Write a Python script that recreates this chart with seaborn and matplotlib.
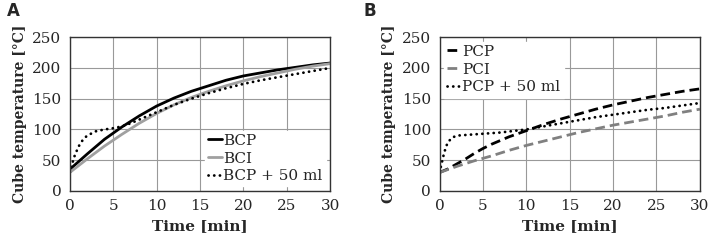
import numpy as np
import pandas as pd
import matplotlib.pyplot as plt
import seaborn as sns

# 面板 A 的数据
t_a = [0, 2, 4, 6, 8, 10, 12, 14, 16, 18, 20, 22, 24, 26, 28, 30]
bcp = [35, 60, 84, 104, 122, 138, 151, 162, 171, 180, 187, 192, 197, 201, 205, 208]
bci = [30, 52, 73, 92, 110, 126, 140, 152, 162, 171, 179, 186, 192, 198, 203, 207]
t_a50 = [0, 0.5, 1, 1.5, 2, 3, 4, 5, 6, 7, 8, 10, 12, 14, 16, 18, 20, 22, 24, 26, 28, 30]
bcp50 = [30, 55, 72, 83, 90, 97, 100, 102, 105, 110, 116, 128, 140, 150, 159, 167, 174, 180, 185, 190, 195, 200]

# 面板 B 的数据
t_b = [0, 1, 2, 3, 4, 5, 6, 8, 10, 12, 14, 16, 18, 20, 22, 24, 26, 28, 30]
pcp = [30, 36, 44, 52, 61, 69, 76, 88, 98, 108, 117, 125, 133, 140, 146, 152, 157, 162, 166]
t_b2 = [0, 2, 4, 6, 8, 10, 12, 14, 16, 18, 20, 22, 24, 26, 28, 30]
pci = [30, 40, 49, 57, 66, 74, 81, 88, 95, 101, 107, 112, 117, 122, 128, 133]
t_b50 = [0, 0.25, 0.5, 0.75, 1, 1.5, 2, 3, 5, 7, 10, 12, 14, 16, 18, 20, 22, 24, 26, 28, 30]
pcp50 = [30, 45, 60, 72, 80, 87, 90, 91, 93, 95, 100, 105, 110, 115, 120, 124, 128, 132, 135, 139, 143]

sns.set_style('white')
plt.rcParams['font.family'] = ['DejaVu Serif']

fig, axes = plt.subplots(1, 2, figsize=(7.12, 2.48), dpi=100)
fig.subplots_adjust(left=0.098, right=0.983, top=0.85, bottom=0.23, wspace=0.42)

DOT = (0, (0.05, 2.0))
DASH = (0, (3.5, 1.8))

def draw(ax, data, labels, colors, styles, loc):
    for (t, y), lab, c, ls in zip(data, labels, colors, styles):
        df = pd.DataFrame({'t': t, 'y': y})
        sns.lineplot(data=df, x='t', y='y', ax=ax, color=c, linestyle=ls, lw=2,
                     label=lab, dash_capstyle='round' if ls == DOT else 'butt')
    ax.set_xlim(0, 30)
    ax.set_ylim(0, 250)
    ax.set_xticks(range(0, 31, 5))
    ax.set_yticks(range(0, 251, 50))
    ax.grid(True, color='#999999', lw=0.8)
    ax.set_axisbelow(True)
    for s in ax.spines.values():
        s.set_color('#333333')
        s.set_linewidth(1)
    ax.tick_params(labelsize=11, length=0, pad=6)
    ax.set_xlabel('Time [min]', fontsize=11, fontweight='bold')
    ax.set_ylabel('Cube temperature [°C]', fontsize=10, fontweight='bold')
    leg = ax.legend(loc=loc, fontsize=11, frameon=True, fancybox=False, handlelength=0.9,
                    handletextpad=0.1, borderpad=0.2, labelspacing=0.25, borderaxespad=0.3)
    leg.get_frame().set_edgecolor('white')
    leg.get_frame().set_alpha(1)

draw(axes[0], [(t_a, bcp), (t_a, bci), (t_a50, bcp50)], ['BCP', 'BCI', 'BCP + 50 ml'],
     ['black', '#a0a0a0', 'black'], ['-', '-', DOT], 'lower right')
draw(axes[1], [(t_b, pcp), (t_b2, pci), (t_b50, pcp50)], ['PCP', 'PCI', 'PCP + 50 ml'],
     ['black', '#808080', 'black'], [DASH, DASH, DOT], 'upper left')

fig.text(0.010, 0.935, 'A', fontsize=12, fontweight='bold', family='DejaVu Sans')
fig.text(0.510, 0.935, 'B', fontsize=12, fontweight='bold', family='DejaVu Sans')

fig.savefig('out.png', dpi=100)
